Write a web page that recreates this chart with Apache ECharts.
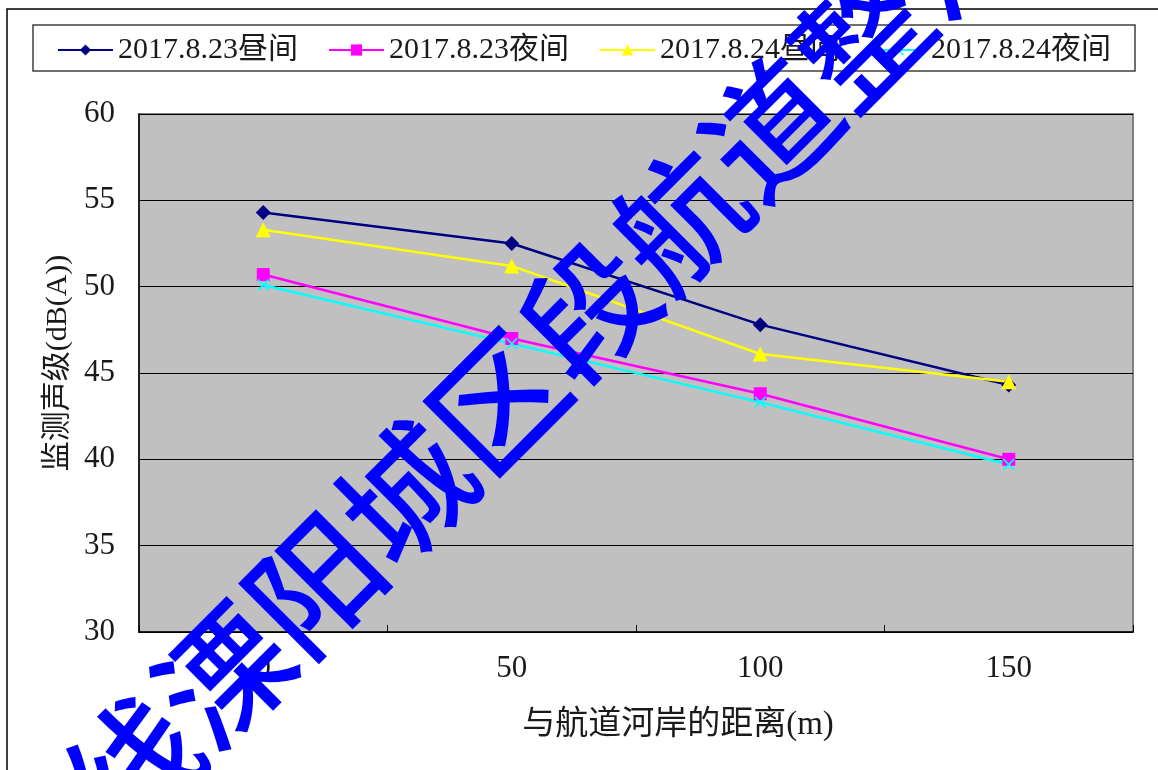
<!DOCTYPE html>
<html>
<head>
<meta charset="utf-8">
<script src="https://cdn.jsdelivr.net/npm/echarts@6/dist/echarts.min.js"></script>
<style>
  html, body { margin: 0; padding: 0; background: #fff; }
  #chart { width: 1158px; height: 770px; }
</style>
</head>
<body>
<div id="chart"></div>
<script>
// Distance from the waterway bank (m)
const categories = ['0', '50', '100', '150'];

// Measured noise levels, dB(A)
const day0823 = [54.3, 52.5, 47.8, 44.3];
const night0823 = [50.7, 47.0, 43.8, 40.0];
const day0824 = [53.3, 51.2, 46.1, 44.5];
const night0824 = [50.1, 46.7, 43.3, 39.7];

const seriesNames = ['2017.8.23昼间', '2017.8.23夜间', '2017.8.24昼间', '2017.8.24夜间'];
const yTicks = { min: 30, max: 60, interval: 5 };

const xName = '与航道河岸的距离(m)';
const yName = '监测声级(dB(A))';
const stampText = '芜申线溧阳城区段航道整治工程';

const FONT = "'Liberation Serif', 'Noto Sans CJK SC', serif";
const TEXT = '#1a1a1a';

// X-shaped marker drawn as a filled outline
const crossPath = 'path://M1,0L5,4L9,0L10,1L6,5L10,9L9,10L5,6L1,10L0,9L4,5L0,1Z';

function lineSeries(name, data, color, symbol, size) {
  return {
    name: name,
    type: 'line',
    data: data,
    symbol: symbol,
    symbolSize: size,
    showSymbol: true,
    lineStyle: { color: color, width: 2.5 },
    itemStyle: { color: color, borderWidth: 0 },
    emphasis: { disabled: true },
    z: 3
  };
}

const chart = echarts.init(document.getElementById('chart'), null, { renderer: 'canvas' });

chart.setOption({
  animation: false,
  backgroundColor: '#ffffff',
  textStyle: { fontFamily: FONT },
  legend: {
    data: seriesNames,
    left: 52,
    top: 30,
    itemWidth: 55,
    itemHeight: 14,
    itemGap: 30,
    textStyle: { fontSize: 30, color: TEXT, fontFamily: FONT, width: 190 },
    borderWidth: 0
  },
  grid: {
    left: 139,
    top: 114,
    right: 25,
    bottom: 138,
    show: true,
    backgroundColor: '#c0c0c0',
    borderColor: '#808080',
    borderWidth: 2
  },
  xAxis: {
    type: 'category',
    data: categories,
    boundaryGap: true,
    name: xName,
    nameLocation: 'middle',
    nameGap: 77,
    nameTextStyle: { fontSize: 33, color: TEXT, fontFamily: FONT, padding: [0, 0, 0, 84] },
    axisLine: { lineStyle: { color: '#000', width: 1.5 } },
    axisTick: { show: true, inside: true, length: 7, lineStyle: { color: '#000' } },
    axisLabel: { fontSize: 31, color: TEXT, margin: 21, fontFamily: FONT },
    splitLine: { show: false }
  },
  yAxis: {
    type: 'value',
    min: yTicks.min,
    max: yTicks.max,
    interval: yTicks.interval,
    name: yName,
    nameLocation: 'middle',
    nameGap: 55,
    nameRotate: 90,
    nameTextStyle: { fontSize: 30, color: TEXT, fontFamily: FONT, padding: [0, 0, 0, 20] },
    axisLine: { show: true, lineStyle: { color: '#000', width: 1.5 } },
    axisTick: { show: true, inside: true, length: 7, lineStyle: { color: '#000' } },
    axisLabel: { fontSize: 31, color: TEXT, margin: 24, fontFamily: FONT },
    splitLine: { show: true, lineStyle: { color: '#000', width: 1 } }
  },
  series: [
    lineSeries(seriesNames[0], day0823, '#000080', 'diamond', 15),
    lineSeries(seriesNames[1], night0823, '#ff00ff', 'rect', 13),
    lineSeries(seriesNames[2], day0824, '#ffff00', 'triangle', 15),
    lineSeries(seriesNames[3], night0824, '#00ffff', crossPath, 12)
  ],
  graphic: [
    {
      // outer chart frame
      type: 'rect',
      shape: { x: 7, y: 9, width: 1300, height: 900 },
      style: { fill: null, stroke: '#000', lineWidth: 1.5 },
      silent: true,
      z: 0
    },
    {
      // legend frame
      type: 'rect',
      shape: { x: 33, y: 25, width: 1102, height: 46 },
      style: { fill: null, stroke: '#404040', lineWidth: 1.5 },
      silent: true,
      z: 1
    },
    {
      // stamp across the chart
      type: 'text',
      x: 543,
      y: 356,
      rotation: Math.PI / 4,
      silent: true,
      z: 100,
      style: {
        text: stampText,
        fill: '#0000ff',
        font: "500 129px 'Noto Sans CJK SC'",
        align: 'center',
        verticalAlign: 'middle'
      }
    }
  ]
});
</script>
</body>
</html>
